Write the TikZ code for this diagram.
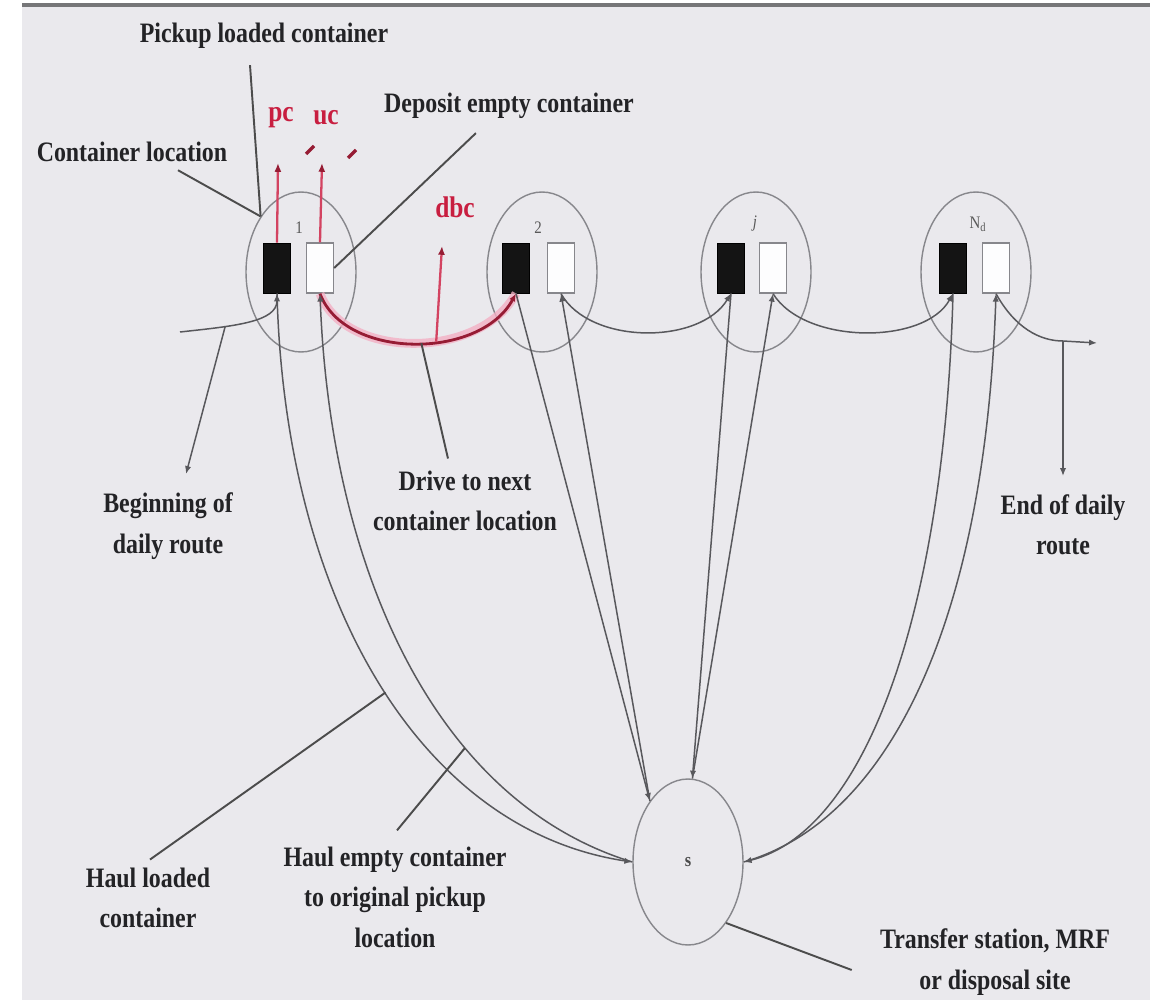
\documentclass[tikz,border=0pt]{standalone}
\usepackage{fontspec}
\setmainfont{Liberation Serif}[FakeStretch=0.85]
\usetikzlibrary{shapes.geometric,arrows.meta,calc}

\definecolor{paper}{RGB}{234,233,237}
\definecolor{rim}{RGB}{118,118,120}
\definecolor{ink}{RGB}{35,35,38}
\definecolor{wire}{RGB}{88,88,92}
\definecolor{ring}{RGB}{135,135,140}
\definecolor{crim}{RGB}{200,30,64}
\definecolor{wine}{RGB}{150,28,52}
\definecolor{blush}{RGB}{243,176,196}

\begin{document}
\begin{tikzpicture}[x=0.02cm,y=-0.02cm,
  lbl/.style={font=\fontsize{16}{23}\selectfont\bfseries, text=ink, align=center, inner sep=0pt},
  sitecirc/.style={ellipse, draw=ring, line width=0.8pt, minimum width=2.2cm, minimum height=3.2cm, inner sep=0pt},
  loadedbox/.style={draw=black, fill=black!92, minimum width=0.54cm, minimum height=1.0cm, inner sep=0pt, line width=0.5pt},
  emptybox/.style={draw=ring, fill=white!92!paper, minimum width=0.54cm, minimum height=1.0cm, inner sep=0pt, line width=0.8pt},
  sitenum/.style={font=\fontsize{10}{12}\selectfont, text=black!65, inner sep=0pt},
  arrowed/.style={-{Latex[length=4.5pt,width=3.6pt]}},
  trip/.style={draw=wire, line width=0.85pt},
  leader/.style={draw=black!70, line width=1.1pt},
  redtxt/.style={font=\fontsize{17}{20}\selectfont\bfseries, text=crim, inner sep=0pt},
  redarrow/.style={draw=crim!75!blush, line width=1.3pt, -{Latex[length=5pt,width=4pt,color=wine]}},
]
% page and top rule
\useasboundingbox (0,0) rectangle (1150,1000);
\fill[paper] (22,6) rectangle (1150,1000);
\draw[rim, line width=2.2pt] (22,5) -- (1150,5);

% container locations
\node[sitecirc] (c1) at (301,272) {};
\node[sitecirc] (c2) at (542,272) {};
\node[sitecirc] (cj) at (756,272) {};
\node[sitecirc] (cn) at (976,272) {};

\node[loadedbox] (b1) at (277,268) {}; \node[emptybox] (w1) at (320,268) {};
\node[loadedbox] (b2) at (516,268) {}; \node[emptybox] (w2) at (561,268) {};
\node[loadedbox] (bj) at (731,268) {}; \node[emptybox] (wj) at (773,268) {};
\node[loadedbox] (bn) at (953,268) {}; \node[emptybox] (wn) at (996,268) {};

\node[sitenum] (n1) at (299,228) {1};
\node[sitenum] (n2) at (538,228) {2};
\node[sitenum] (nj) at (755,224) {\textit{j}};
\node[sitenum] (nn) at (978,224) {N\textsubscript{d}};

% disposal site
\node[ellipse, draw=ring, line width=0.8pt, minimum width=2.2cm, minimum height=3.32cm,
      inner sep=0pt, font=\fontsize{11}{12}\selectfont\bfseries, text=black!70] (s) at (688,862) {s};

% daily route
\coordinate (rs) at (180,332);
\draw[trip, arrowed] (rs) .. controls (235,326) and (277,322) .. coordinate[pos=.3] (bp) (b1.south);

\draw[blush, line width=5pt, opacity=.8] (w1.south) .. controls (345,360) and (480,360) .. (b2.south);
\draw[wine, line width=1.6pt, arrowed] (w1.south) .. controls (345,360) and (480,360) ..
      coordinate[pos=.53] (dm) coordinate[pos=.59] (db) (b2.south);

\draw[trip, arrowed] (w2.south) .. controls (590,345) and (700,345) .. (bj.south);
\draw[trip, arrowed] (wj.south) .. controls (805,345) and (925,345) .. (bn.south);

\coordinate (ej) at (1063,341);
\coordinate (re) at (1097,343);
\coordinate (et) at (1063,476);
\draw[trip, arrowed] (wn.south) .. controls (1015,328) and (1040,341) .. (ej) -- (re);
\draw[trip, arrowed] (ej) -- (et);

\coordinate (bb) at (186,474);
\draw[trip, arrowed] (bp) -- (bb);

% haul trips to and from the site
\draw[trip, arrowed] (b1.south) .. controls (285,600) and (420,830) .. coordinate[pos=.52] (hl) (s.west);
\draw[trip, arrowed] (s.west) .. controls (430,800) and (330,560) .. coordinate[pos=.33] (he) (w1.south);

\draw[trip, arrowed] (b2.south) -- (s.122);
\draw[trip, arrowed] (s.122) -- (w2.south);
\draw[trip, arrowed] (bj.south) -- (s.87);
\draw[trip, arrowed] (s.87) -- (wj.south);

\draw[trip, arrowed] (bn.south) .. controls (945,600) and (870,830) .. (s.east);
\draw[trip, arrowed] (s.east) .. controls (890,820) and (985,620) .. (wn.south);

% red activity marks
\node[redtxt] (pc) at (281,118) {pc};
\node[redtxt] (uc) at (326,118) {uc};
\node[redtxt] (dbc) at (455,207) {dbc};
\coordinate (pca) at (278,163);
\coordinate (uca) at (322,163);
\coordinate (dba) at (442,246);
\draw[redarrow] (b1.north) -- (pca);
\draw[redarrow] (w1.north) -- (uca);
\draw[redarrow] (db) -- (dba);
\draw[wine, line width=2pt] (306,154) -- (314,146);
\draw[wine, line width=2pt] (348,158) -- (356,150);

% labels
\node[lbl] (pick) at (264,36) {Pickup loaded container};
\node[lbl] (cloc) at (132,152) {Container location};
\node[lbl] (dep) at (509,106) {Deposit empty container};
\node[lbl] (beg) at (168,526) {Beginning of\\daily route};
\node[lbl] (drv) at (465,501) {Drive to next\\container location};
\node[lbl] (fin) at (1063,525) {End of daily\\route};
\node[lbl] (hll) at (148,898) {Haul loaded\\container};
\node[lbl] (hel) at (395,897) {Haul empty container\\to original pickup\\location};
\node[lbl] (tsl) at (995,962) {Transfer station, MRF\\or disposal site};

% leader lines
\draw[leader] ($(pick.south)+(-14,16)$) -- (c1.126);
\draw[leader] ($(cloc.south)+(46,8)$) -- (c1.126);
\draw[leader] ($(dep.south west)+(92,14)$) -- (w1.east);
\draw[leader] (dm) -- ($(drv.north)+(-17,-12)$);
\draw[leader] ($(hll.north)+(2,-8)$) -- (hl);
\draw[leader] ($(hel.north)+(2,-16)$) -- (he);
\draw[leader] (s.-58) -- ($(tsl.west)+(-28,8)$);
\end{tikzpicture}
\end{document}
